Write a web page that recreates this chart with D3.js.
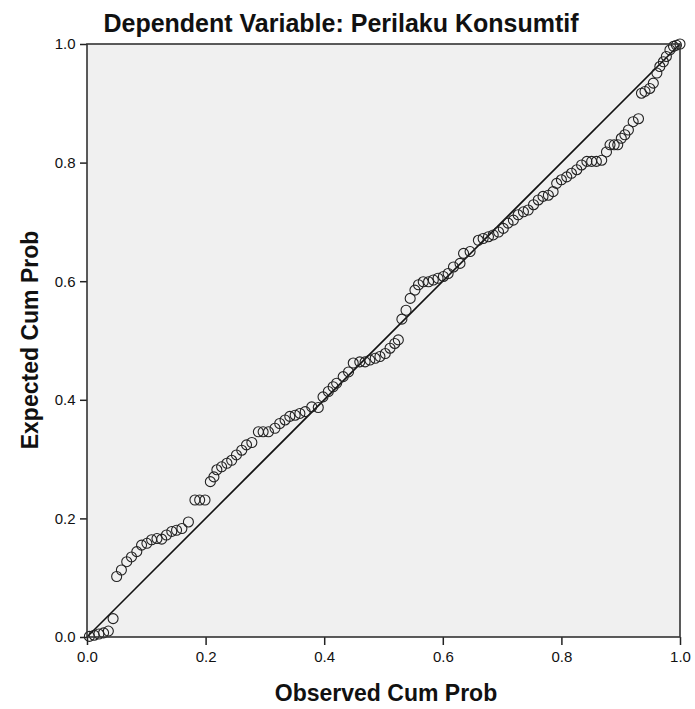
<!DOCTYPE html>
<html><head><meta charset="utf-8">
<script src="https://cdn.jsdelivr.net/npm/d3@7"></script>
<style>body{margin:0;background:#fff;} text{font-family:"Liberation Sans",Arial,sans-serif;}</style>
</head><body>
<svg id="c" width="695" height="709"></svg>
<script>
const titleText = "Dependent Variable: Perilaku Konsumtif";
const xLabel = "Observed Cum Prob";
const yLabel = "Expected Cum Prob";
const tickValues = [0, 0.2, 0.4, 0.6, 0.8, 1.0];
const observed = [0.004,0.012,0.020,0.028,0.036,0.044,0.050,0.058,0.067,0.075,0.084,0.092,0.101,0.109,0.118,0.126,0.134,0.143,0.151,0.160,0.171,0.182,0.190,0.199,0.208,0.214,0.219,0.227,0.236,0.244,0.252,0.261,0.269,0.278,0.289,0.297,0.306,0.317,0.325,0.334,0.342,0.351,0.359,0.368,0.379,0.390,0.398,0.407,0.415,0.421,0.432,0.441,0.449,0.460,0.469,0.477,0.486,0.494,0.503,0.511,0.519,0.525,0.531,0.538,0.545,0.553,0.559,0.567,0.576,0.584,0.592,0.601,0.609,0.618,0.629,0.635,0.646,0.660,0.668,0.677,0.685,0.694,0.702,0.710,0.719,0.727,0.736,0.744,0.753,0.761,0.769,0.778,0.786,0.792,0.800,0.809,0.817,0.826,0.834,0.843,0.851,0.859,0.868,0.876,0.882,0.889,0.895,0.901,0.907,0.913,0.921,0.930,0.935,0.941,0.949,0.955,0.961,0.966,0.972,0.977,0.983,0.989,0.994,1.000];
const expected = [0.001,0.003,0.005,0.007,0.010,0.031,0.102,0.113,0.127,0.135,0.144,0.155,0.158,0.164,0.166,0.165,0.172,0.178,0.180,0.183,0.194,0.231,0.231,0.231,0.262,0.270,0.282,0.287,0.293,0.298,0.307,0.315,0.324,0.328,0.346,0.346,0.346,0.352,0.360,0.366,0.372,0.374,0.377,0.380,0.388,0.387,0.405,0.414,0.422,0.428,0.439,0.447,0.462,0.464,0.464,0.467,0.470,0.473,0.478,0.487,0.495,0.501,0.536,0.551,0.571,0.585,0.594,0.599,0.599,0.602,0.605,0.608,0.613,0.624,0.630,0.647,0.650,0.669,0.672,0.675,0.678,0.683,0.689,0.698,0.703,0.712,0.717,0.720,0.729,0.737,0.743,0.745,0.751,0.765,0.771,0.776,0.782,0.788,0.796,0.802,0.802,0.802,0.804,0.818,0.830,0.830,0.830,0.841,0.847,0.855,0.869,0.874,0.917,0.920,0.925,0.934,0.951,0.962,0.970,0.979,0.990,0.996,0.998,1.000];
const diagonal = [0, 1];

const svg = d3.select("#c");
const L = 87, R = 680, T = 44, B = 637;
const x = d3.scaleLinear().domain([0,1]).range([L,R]);
const y = d3.scaleLinear().domain([0,1]).range([B,T]);

svg.append("rect").attr("x",L).attr("y",T).attr("width",R-L).attr("height",B-T)
  .attr("fill","#f0f0f0").attr("stroke","none");

const fmt = d3.format(".1f");
const xa = svg.append("g").attr("transform",`translate(0,${B})`)
  .call(d3.axisBottom(x).tickValues(tickValues).tickFormat(fmt).tickSize(8).tickSizeOuter(0));
const ya = svg.append("g").attr("transform",`translate(${L},0)`)
  .call(d3.axisLeft(y).tickValues(tickValues).tickFormat(fmt).tickSize(7).tickSizeOuter(0));
[xa,ya].forEach(g=>{
  g.select(".domain").remove();
  g.selectAll("line").attr("stroke","#222").attr("stroke-width",1.5);
  g.selectAll("text").attr("font-size","15px").attr("fill","#111")
   .attr("font-family","'Liberation Sans',Arial,sans-serif");
});
xa.selectAll("text").attr("dy","0.9em");
ya.selectAll("text").attr("dx","-0.1em").attr("dy","0.33em");

svg.append("line").attr("x1",x(diagonal[0])).attr("y1",y(diagonal[0]))
  .attr("x2",x(diagonal[1])).attr("y2",y(diagonal[1]))
  .attr("stroke","#111").attr("stroke-width",1.6);

svg.append("g").selectAll("circle").data(observed).join("circle")
  .attr("cx",(d)=>x(d)).attr("cy",(d,i)=>y(expected[i])).attr("r",5)
  .attr("fill","none").attr("stroke","#222").attr("stroke-width",1.1);

svg.append("rect").attr("x",L).attr("y",T).attr("width",R-L).attr("height",B-T)
  .attr("fill","none").attr("stroke","#333").attr("stroke-width",1.6);

svg.append("text").attr("x",341).attr("y",32).attr("text-anchor","middle")
  .attr("font-size","25px").attr("font-weight","bold").attr("fill","#111").text(titleText);
svg.append("text").attr("x",386).attr("y",701).attr("text-anchor","middle")
  .attr("font-size","23px").attr("font-weight","bold").attr("fill","#111").text(xLabel);
svg.append("text").attr("transform",`translate(38,340) rotate(-90)`).attr("text-anchor","middle")
  .attr("font-size","23px").attr("font-weight","bold").attr("fill","#111").text(yLabel);
</script>
</body></html>
